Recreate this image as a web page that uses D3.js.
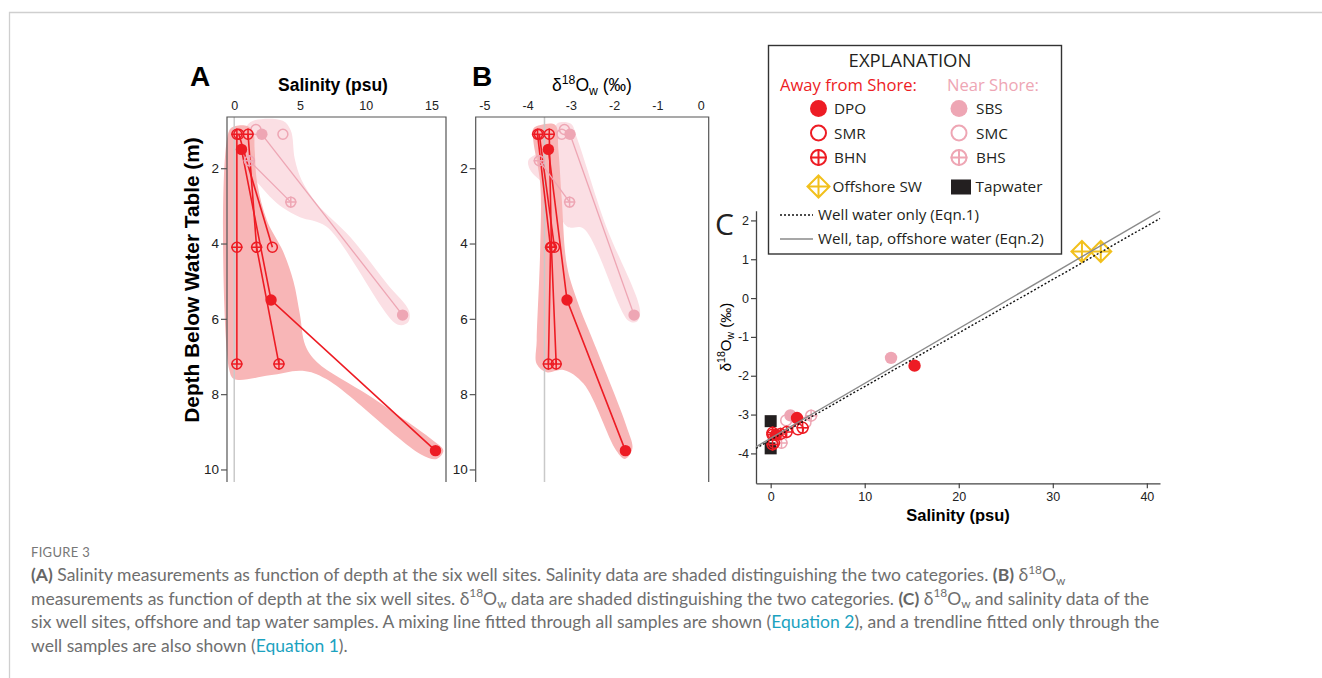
<!DOCTYPE html>
<html>
<head>
<meta charset="utf-8">
<script src="https://cdn.jsdelivr.net/npm/d3@7/dist/d3.min.js"></script>
<style>
  body { margin: 0; background: #fff; }
  svg { display: block; }
</style>
</head>
<body>
<div id="chart"></div>
<script>
// ---- well samples (one entry per sample) ----
var sampleWell    = ["DPO","DPO","DPO","SMR","SMR","BHN","BHN","BHN","BHN","BHN","BHN","SBS","SBS","SMC","SMC","BHS","BHS"];
var sampleProfile = ["DPO","DPO","DPO","SMR","SMR","BHN1","BHN1","BHN1","BHN2","BHN2","BHN2","SBS","SBS","SMC1","SMC2","BHS","BHS"];
var sampleDepth   = [1.5, 5.5, 9.5, 1.1, 4.1, 1.1, 4.1, 7.2, 1.1, 4.1, 7.2, 1.1, 5.9, 0.97, 1.1, 1.8, 2.9];
var sampleSalinity= [0.55, 2.8, 15.3, 0.35, 2.9, 0.2, 0.2, 0.2, 1.05, 1.7, 3.4, 2.1, 12.8, 1.65, 3.7, 1.15, 4.3];
var sampleD18O    = [-3.52, -3.09, -1.74, -3.73, -3.38, -3.77, -3.47, -3.52, -3.5, -3.45, -3.34, -3.02, -1.54, -3.15, -3.21, -3.73, -3.03];

// ---- other water samples ----
var offshoreSalinity = [33.1, 35.1];
var offshoreD18O     = [1.2, 1.2];
var tapSalinity      = [0, 0];
var tapD18O          = [-3.17, -3.87];

// ---- fitted lines (delta = slope * salinity + intercept) ----
var fitNames      = ["Eqn1", "Eqn2"];
var fitSlope      = [0.1378, 0.1413];
var fitIntercept  = [-3.655, -3.61];

// reference lines
var refSalinityA = 0;
var refD18OB = -3.61;

// ---- shaded envelopes (x value, depth) ----
var shadeAwayA = [[-0.38,1.0],[0.1,0.88],[1.0,0.88],[1.45,1.05],[1.55,1.5],[1.75,2.4],[2.5,3.4],[3.7,4.2],[4.5,5.0],[5.0,5.9],[5.4,6.7],[6.3,7.15],[10.3,8.05],[15.0,9.2],[15.9,9.5],[15.4,9.72],[14.2,9.6],[7.0,7.6],[5.2,7.38],[2.7,7.5],[0.0,7.6],[-0.38,7.35]];
var shadeNearA = [[1.0,0.85],[1.6,0.72],[3.7,0.74],[4.3,1.0],[4.6,1.75],[5.1,2.3],[6.3,2.95],[8.8,3.82],[11.6,5.06],[13.3,5.8],[13.2,6.1],[12.4,6.15],[7.0,3.55],[5.0,3.3],[3.7,3.05],[2.7,2.75],[1.7,2.36],[0.9,2.1],[0.3,2.05],[0.15,1.75],[0.5,1.45],[0.9,1.0]];
var shadeAwayB = [[-3.87,0.95],[-3.7,0.85],[-3.36,0.85],[-3.29,1.5],[-3.21,2.84],[-3.09,4.6],[-2.86,5.5],[-2.4,6.83],[-1.71,8.87],[-1.58,9.45],[-1.75,9.72],[-1.95,9.5],[-2.71,7.72],[-3.17,7.36],[-3.56,7.42],[-3.79,7.2],[-3.79,6.57],[-3.71,4.17],[-3.71,2.4],[-3.87,1.25]];
var shadeNearB = [[-3.4,1.0],[-3.3,0.8],[-3.0,0.82],[-2.86,1.2],[-2.2,3.5],[-1.4,5.8],[-1.48,6.08],[-1.67,6.05],[-2.71,3.6],[-3.09,3.55],[-3.48,2.6],[-3.94,2.05],[-3.98,1.78],[-3.71,1.55]];

// ---- ticks ----
var salTicksA   = [0, 5, 10, 15];
var d18TicksB   = [-5, -4, -3, -2, -1, 0];
var depthTicks  = [2, 4, 6, 8, 10];
var salTicksC   = [0, 10, 20, 30, 40];
var d18TicksC   = [-4, -3, -2, -1, 0, 1, 2];

// ---- legend ----
var awayWells = ["DPO", "SMR", "BHN"];
var nearWells = ["SBS", "SMC", "BHS"];

var RED = "#ed1c24", PINK = "#eea6b4", YEL = "#f2c01c", TAP = "#231f20";
var wellStyle = {
  DPO: {color: RED, shape: "filled"}, SMR: {color: RED, shape: "open"}, BHN: {color: RED, shape: "cross"},
  SBS: {color: PINK, shape: "filled"}, SMC: {color: PINK, shape: "open"}, BHS: {color: PINK, shape: "cross"}
};
var AXIS = "#444";
var ARIAL = "'Liberation Sans', Arial, sans-serif";
var MYRIAD = "'Open Sans', 'Noto Sans', sans-serif";
var hyphen = function(d) { return d < 0 ? "-" + Math.abs(d) : String(d); };

var W = 1322, H = 678;
var svg = d3.select("#chart").append("svg").attr("width", W).attr("height", H);

// figure border
svg.append("path").attr("d", "M9.5,678 V12.5 H1322").attr("fill", "none").attr("stroke", "#cfcfcf").attr("stroke-width", 1.3);

var samples = sampleWell.map(function(w, i) {
  return {well: w, profile: sampleProfile[i], depth: sampleDepth[i], sal: sampleSalinity[i], d18: sampleD18O[i]};
});

function marker(g, x, y, shape, color, r, sw) {
  sw = sw || 1.5;
  if (shape === "filled") {
    g.append("circle").attr("cx", x).attr("cy", y).attr("r", r).attr("fill", color);
  } else if (shape === "open" || shape === "cross") {
    g.append("circle").attr("cx", x).attr("cy", y).attr("r", r - sw / 2)
      .attr("fill", "none").attr("stroke", color).attr("stroke-width", sw);
    if (shape === "cross") {
      g.append("path").attr("d", "M" + (x - r) + "," + y + "H" + (x + r) + "M" + x + "," + (y - r) + "V" + (y + r))
        .attr("stroke", color).attr("stroke-width", sw).attr("fill", "none");
    }
  } else if (shape === "diamond") {
    g.append("path").attr("d", "M" + x + "," + (y - r) + "L" + (x + r) + "," + y + "L" + x + "," + (y + r) + "L" + (x - r) + "," + y + "Z" +
        "M" + (x - r) + "," + y + "H" + (x + r) + "M" + x + "," + (y - r) + "V" + (y + r))
      .attr("fill", "none").attr("stroke", color).attr("stroke-width", sw).attr("stroke-linejoin", "miter");
  }
}

// delta-18-O-w label as tspans
function deltaLabel(t, fs, tail) {
  t.append("tspan").text("δ");
  t.append("tspan").attr("font-size", fs * 0.7).attr("dy", -fs * 0.42).text("18");
  t.append("tspan").attr("dy", fs * 0.42).text("O");
  t.append("tspan").attr("font-size", fs * 0.7).attr("dy", fs * 0.22).text("w");
  t.append("tspan").attr("dy", -fs * 0.22).text(tail || "");
}

// ---------- depth profile panels ----------
var frameTop = 117, frameBottom = 482;
function profilePanel(opt) {
  var g = svg.append("g");
  var x = d3.scaleLinear().domain(opt.xDomain).range([opt.left, opt.right]);
  var y = d3.scaleLinear().domain([0.64, 10.2]).range([117, 477]);
  var line = d3.line().x(function(d) { return x(d[0]); }).y(function(d) { return y(d[1]); }).curve(d3.curveCatmullRomClosed.alpha(0.5));

  g.append("path").attr("d", line(opt.shadeNear)).attr("fill", "#fbdfe4");
  g.append("path").attr("d", line(opt.shadeAway)).attr("fill", "#f8b6b7");

  g.append("line").attr("x1", x(opt.ref)).attr("x2", x(opt.ref)).attr("y1", frameTop).attr("y2", frameBottom)
    .attr("stroke", "#c9c9c9").attr("stroke-width", 1.5);

  // frame: left, top, right
  g.append("path").attr("d", "M" + opt.left + "," + frameBottom + "V" + frameTop + "H" + opt.right + "V" + frameBottom)
    .attr("fill", "none").attr("stroke", "#555").attr("stroke-width", 1.2);

  // profile lines
  var profiles = d3.groups(samples, function(d) { return d.profile; });
  var pl = d3.line().x(function(d) { return x(d[opt.key]); }).y(function(d) { return y(d.depth); });
  profiles.forEach(function(p) {
    var pts = p[1];
    if (pts.length < 2) return;
    g.append("path").attr("d", pl(pts)).attr("fill", "none")
      .attr("stroke", wellStyle[pts[0].well].color).attr("stroke-width", pts[0].well === "SBS" || pts[0].well === "BHS" ? 1.3 : 1.6);
  });
  samples.slice().reverse().forEach(function(d) {
    var s = wellStyle[d.well];
    marker(g, x(d[opt.key]), y(d.depth), s.shape, s.color, 5.7, 1.5);
  });

  // top axis
  var ax = g.append("g").attr("transform", "translate(0," + frameTop + ")")
    .call(d3.axisTop(x).tickValues(opt.ticks).tickSize(0).tickPadding(7).tickFormat(hyphen));
  ax.select(".domain").remove();
  ax.selectAll("text").attr("font-family", ARIAL).attr("font-size", 12.5).attr("fill", "#222");

  var ay = g.append("g").attr("transform", "translate(" + opt.left + ",0)")
    .call(d3.axisLeft(y).tickValues(depthTicks).tickSize(6).tickPadding(2));
  ay.select(".domain").remove();
  ay.selectAll("line").attr("stroke", "#555").attr("stroke-width", 1.2);
  ay.selectAll("text").attr("font-family", ARIAL).attr("font-size", 13.5).attr("fill", "#222");
  return g;
}

var gA = profilePanel({left: 227, right: 446, xDomain: [-0.55, 16.1], key: "sal", ref: refSalinityA,
  ticks: salTicksA, shadeAway: shadeAwayA, shadeNear: shadeNearA});
var gB = profilePanel({left: 475.7, right: 708.7, xDomain: [-5.2, 0.185], key: "d18", ref: refD18OB,
  ticks: d18TicksB, shadeAway: shadeAwayB, shadeNear: shadeNearB});

// titles
svg.append("text").attr("x", 190).attr("y", 86).attr("font-family", ARIAL).attr("font-weight", "bold").attr("font-size", 28).text("A");
svg.append("text").attr("x", 472).attr("y", 86).attr("font-family", ARIAL).attr("font-weight", "bold").attr("font-size", 28).text("B");
svg.append("text").attr("x", 333).attr("y", 91).attr("text-anchor", "middle").attr("font-family", ARIAL)
  .attr("font-weight", "bold").attr("font-size", 17.5).text("Salinity (psu)");
var tB = svg.append("text").attr("x", 592).attr("y", 91).attr("text-anchor", "middle").attr("font-family", ARIAL).attr("font-size", 17.5);
deltaLabel(tB, 17.5, " (‰)");
svg.append("text").attr("transform", "translate(199,280) rotate(-90)").attr("text-anchor", "middle")
  .attr("font-family", ARIAL).attr("font-weight", "bold").attr("font-size", 20.8).text("Depth Below Water Table (m)");

// ---------- panel C ----------
var gC = svg.append("g");
var xC = d3.scaleLinear().domain([-1.56, 41.4]).range([756, 1160]);
var yC = d3.scaleLinear().domain([-4.77, 2.25]).range([483.3, 210.7]);

var axC = gC.append("g").attr("transform", "translate(0,483.3)")
  .call(d3.axisBottom(xC).tickValues(salTicksC).tickSize(5).tickPadding(4).tickSizeOuter(0));
var ayC = gC.append("g").attr("transform", "translate(756,0)")
  .call(d3.axisLeft(yC).tickValues(d18TicksC).tickSize(5).tickPadding(2).tickSizeOuter(0).tickFormat(hyphen));
[axC, ayC].forEach(function(a) {
  a.select(".domain").attr("stroke", AXIS).attr("stroke-width", 1.3);
  a.selectAll("line").attr("stroke", AXIS).attr("stroke-width", 1.2);
  a.selectAll("text").attr("font-family", ARIAL).attr("font-size", 12.5).attr("fill", "#222");
});

// tap water squares
tapSalinity.forEach(function(s, i) {
  gC.append("rect").attr("x", xC(s) - 6).attr("y", yC(tapD18O[i]) - 6).attr("width", 12).attr("height", 12).attr("fill", TAP);
});
// well samples: near shore first, then away
samples.filter(function(d) { return wellStyle[d.well].color === PINK; })
  .concat(samples.filter(function(d) { return wellStyle[d.well].color === RED; }))
  .forEach(function(d) {
    var s = wellStyle[d.well];
    marker(gC, xC(d.sal), yC(d.d18), s.shape, s.color, 6.2, 1.5);
  });
offshoreSalinity.forEach(function(s, i) {
  marker(gC, xC(s), yC(offshoreD18O[i]), "diamond", YEL, 10.5, 2);
});

// fitted lines
fitNames.forEach(function(n, i) {
  var x0 = xC.domain()[0], x1 = xC.domain()[1];
  gC.append("line").attr("x1", xC(x0)).attr("y1", yC(fitSlope[i] * x0 + fitIntercept[i]))
    .attr("x2", xC(x1)).attr("y2", yC(fitSlope[i] * x1 + fitIntercept[i]))
    .attr("stroke", n === "Eqn1" ? "#111" : "#8a8a8a").attr("stroke-width", 1.4)
    .attr("stroke-dasharray", n === "Eqn1" ? "2,2" : null);
});

svg.append("text").attr("x", 958).attr("y", 521).attr("text-anchor", "middle").attr("font-family", ARIAL)
  .attr("font-weight", "bold").attr("font-size", 16.5).text("Salinity (psu)");
var tC = svg.append("text").attr("transform", "translate(731,337) rotate(-90)").attr("text-anchor", "middle")
  .attr("font-family", ARIAL).attr("font-size", 15);
deltaLabel(tC, 15, " (‰)");
svg.append("text").attr("x", 715).attr("y", 235).attr("font-family", MYRIAD).attr("font-size", 30).attr("fill", "#222").text("C");

// ---------- legend ----------
var lg = svg.append("g");
lg.append("rect").attr("x", 768.5).attr("y", 45.5).attr("width", 293).attr("height", 208.5)
  .attr("fill", "#fff").attr("stroke", "#333").attr("stroke-width", 1.4);
lg.append("text").attr("x", 910).attr("y", 67).attr("text-anchor", "middle").attr("font-family", MYRIAD)
  .attr("font-size", 18.5).attr("fill", "#231f20").text("EXPLANATION");
lg.append("text").attr("x", 780).attr("y", 91).attr("font-family", MYRIAD).attr("font-size", 16.6)
  .attr("fill", RED).text("Away from Shore:");
lg.append("text").attr("x", 947).attr("y", 91).attr("font-family", MYRIAD).attr("font-size", 16.6)
  .attr("fill", PINK).text("Near Shore:");
awayWells.forEach(function(w, i) {
  var yy = 108.5 + i * 24.5;
  marker(lg, 818.5, yy, wellStyle[w].shape, wellStyle[w].color, 8.5, 2);
  lg.append("text").attr("x", 834).attr("y", yy + 5.5).attr("font-family", MYRIAD).attr("font-size", 15.3).attr("fill", "#231f20").text(w);
});
nearWells.forEach(function(w, i) {
  var yy = 108.5 + i * 24.5;
  marker(lg, 959, yy, wellStyle[w].shape, wellStyle[w].color, 8.5, 2);
  lg.append("text").attr("x", 976).attr("y", yy + 5.5).attr("font-family", MYRIAD).attr("font-size", 15.3).attr("fill", "#231f20").text(w);
});
marker(lg, 818.5, 186.5, "diamond", YEL, 11, 2);
lg.append("text").attr("x", 832.5).attr("y", 192).attr("font-family", MYRIAD).attr("font-size", 15.3).attr("fill", "#231f20").text("Offshore SW");
lg.append("rect").attr("x", 951).attr("y", 179.5).attr("width", 20).attr("height", 15).attr("fill", TAP);
lg.append("text").attr("x", 975.5).attr("y", 192).attr("font-family", MYRIAD).attr("font-size", 15.3).attr("fill", "#231f20").text("Tapwater");
lg.append("line").attr("x1", 780).attr("x2", 813).attr("y1", 215).attr("y2", 215).attr("stroke", "#111").attr("stroke-width", 1.3).attr("stroke-dasharray", "2,2");
lg.append("text").attr("x", 818).attr("y", 220).attr("font-family", MYRIAD).attr("font-size", 15.2).attr("fill", "#231f20").text("Well water only (Eqn.1)");
lg.append("line").attr("x1", 780).attr("x2", 813).attr("y1", 239).attr("y2", 239).attr("stroke", "#8a8a8a").attr("stroke-width", 1.4);
lg.append("text").attr("x", 818).attr("y", 244).attr("font-family", MYRIAD).attr("font-size", 15.2).attr("fill", "#231f20").text("Well, tap, offshore water (Eqn.2)");

// ---------- caption ----------
var CAP = "Lato, 'Open Sans', sans-serif";
svg.append("text").attr("x", 31).attr("y", 556.5).attr("font-family", CAP).attr("font-size", 13)
  .attr("fill", "#777").attr("letter-spacing", 0.3).text("FIGURE 3");

var capLines = [
  [["(A)", "b"], [" Salinity measurements as function of depth at the six well sites. Salinity data are shaded distinguishing the two categories. "], ["(B)", "b"], [" δ"], ["18", "sup"], ["O"], ["w", "sub"]],
  [["measurements as function of depth at the six well sites. δ"], ["18", "sup"], ["O"], ["w", "sub"], [" data are shaded distinguishing the two categories. "], ["(C)", "b"], [" δ"], ["18", "sup"], ["O"], ["w", "sub"], [" and salinity data of the"]],
  [["six well sites, offshore and tap water samples. A mixing line fitted through all samples are shown ("], ["Equation 2", "link"], ["), and a trendline fitted only through the"]],
  [["well samples are also shown ("], ["Equation 1", "link"], [")."]]
];
var capY = [580.7, 604.5, 628.2, 651.8];

function drawCaption(fs) {
  svg.selectAll(".cap").remove();
  capLines.forEach(function(segs, li) {
    var t = svg.append("text").attr("class", "cap").attr("x", 31).attr("y", capY[li])
      .attr("font-family", CAP).attr("font-size", fs).attr("fill", "#6e6e6e");
    var cur = 0;
    segs.forEach(function(s) {
      var off = s[1] === "sup" ? -fs * 0.4 : s[1] === "sub" ? fs * 0.22 : 0;
      var ts = t.append("tspan").attr("dy", off - cur).text(s[0]);
      cur = off;
      if (s[1] === "sup" || s[1] === "sub") ts.attr("font-size", fs * 0.68);
      if (s[1] === "b") ts.attr("font-weight", "bold").attr("fill", "#666");
      if (s[1] === "link") ts.attr("fill", "#1ba2bf");
    });
  });
}
drawCaption(17);
// fit line 3 to its width in the picture
var w3 = svg.selectAll(".cap").nodes()[2].getComputedTextLength();
drawCaption(17 * (1129 / w3));
</script>
</body>
</html>
